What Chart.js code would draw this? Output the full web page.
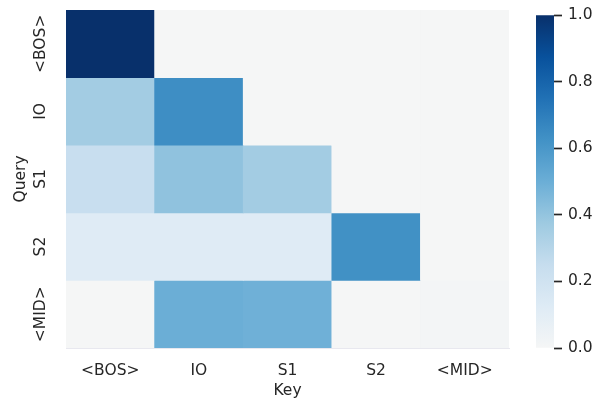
<!DOCTYPE html>
<html>
<head>
<meta charset="utf-8">
<script src="https://cdn.jsdelivr.net/npm/chart.js@4/dist/chart.umd.min.js"></script>
<style>
  html, body { margin: 0; padding: 0; background: #ffffff; }
  #wrap { position: relative; width: 607px; height: 415px; }
  #heat { position: absolute; left: 0; top: 0; }
  #cbar { position: absolute; left: 536px; top: 0; }
</style>
</head>
<body>
<div id="wrap">
  <canvas id="heat" width="607" height="415"></canvas>
  <canvas id="cbar" width="71" height="415"></canvas>
</div>
<script>
// Attention weights: one array per query token, one entry per key token.
const keys = ['<BOS>', 'IO', 'S1', 'S2', '<MID>'];
const queries = ['<BOS>', 'IO', 'S1', 'S2', '<MID>'];
const rowBOS = [1.00, 0.00, 0.00, 0.00, 0.00];
const rowIO  = [0.36, 0.64, 0.00, 0.00, 0.00];
const rowS1  = [0.24, 0.41, 0.36, 0.00, 0.00];
const rowS2  = [0.12, 0.12, 0.12, 0.63, 0.00];
const rowMID = [0.00, 0.50, 0.49, 0.00, 0.01];
const weights = [rowBOS, rowIO, rowS1, rowS2, rowMID];
const colorbarTicks = [0, 0.2, 0.4, 0.6, 0.8, 1.0];

// Sequential blue colour map (position, colour).
const cmapStops = [
  [0.000, '#f5f6f6'],
  [0.125, '#deebf5'],
  [0.250, '#c6ddee'],
  [0.375, '#9ecae1'],
  [0.500, '#6baed6'],
  [0.625, '#4292c6'],
  [0.750, '#2171b5'],
  [0.875, '#08519c'],
  [1.000, '#08306b']
];

function hexToRgb(h) {
  const n = parseInt(h.slice(1), 16);
  return [(n >> 16) & 255, (n >> 8) & 255, n & 255];
}
function cmap(v) {
  v = Math.max(0, Math.min(1, v));
  for (let i = 1; i < cmapStops.length; i++) {
    const [p1, c1] = cmapStops[i];
    const [p0, c0] = cmapStops[i - 1];
    if (v <= p1) {
      const t = (v - p0) / (p1 - p0);
      const a = hexToRgb(c0), b = hexToRgb(c1);
      const rgb = a.map((x, k) => Math.round(x + (b[k] - x) * t));
      return `rgb(${rgb[0]},${rgb[1]},${rgb[2]})`;
    }
  }
  return cmapStops[cmapStops.length - 1][1];
}

const FAMILY = "'DejaVu Sans', Verdana, sans-serif";
const FONT_SIZE = 15.5;
Chart.defaults.font.family = FAMILY;
Chart.defaults.font.size = FONT_SIZE;
Chart.defaults.color = '#262626';

const TEXT = '#262626';
const nRows = queries.length;

// Each query row becomes one dataset of floating bars spanning one unit on y.
const datasets = queries.map((q, r) => ({
  label: q,
  data: keys.map(() => [nRows - 1 - r, nRows - r]),
  backgroundColor: weights[r].map(v => cmap(v)),
  borderWidth: 0,
  categoryPercentage: 1.0,
  barPercentage: 1.0
}));

// Rotated query labels centred on each row.
const queryLabels = {
  id: 'queryLabels',
  afterDraw(chart) {
    const ys = chart.scales.y;
    const ctx = chart.ctx;
    ctx.save();
    ctx.fillStyle = TEXT;
    ctx.font = `${FONT_SIZE}px ${FAMILY}`;
    ctx.textAlign = 'center';
    ctx.textBaseline = 'middle';
    queries.forEach((q, r) => {
      const y = ys.getPixelForValue(nRows - 0.5 - r);
      ctx.save();
      ctx.translate(41, y);
      ctx.rotate(-Math.PI / 2);
      ctx.fillText(q, 0, 0);
      ctx.restore();
    });
    ctx.restore();
  }
};

new Chart(document.getElementById('heat'), {
  type: 'bar',
  data: { labels: keys, datasets },
  options: {
    responsive: false,
    animation: false,
    devicePixelRatio: 1,
    layout: { padding: { left: 0, top: 10, right: 98, bottom: 0 } },
    plugins: { legend: { display: false }, tooltip: { enabled: false } },
    scales: {
      x: {
        stacked: true,
        grid: { display: false },
        border: { display: true, color: '#e8e8ef', width: 1 },
        ticks: { color: TEXT, padding: 6, maxRotation: 0, font: { size: FONT_SIZE } },
        title: { display: true, text: 'Key', color: TEXT, font: { size: FONT_SIZE }, padding: { top: 0, bottom: 15 } },
        afterFit(s) { s.height = 67; }
      },
      y: {
        min: 0,
        max: nRows,
        grid: { display: false },
        border: { display: false },
        ticks: { display: false },
        title: { display: true, text: 'Query', color: TEXT, font: { size: FONT_SIZE }, padding: { top: 12, bottom: 0 } },
        afterFit(s) { s.width = 66; }
      }
    }
  },
  plugins: [queryLabels]
});

// Colour bar: a single floating bar filled with the colour map gradient.
new Chart(document.getElementById('cbar'), {
  type: 'bar',
  data: {
    labels: [''],
    datasets: [{
      data: [[0, 1]],
      borderWidth: 0,
      categoryPercentage: 1.0,
      barPercentage: 1.0,
      backgroundColor(ctx) {
        const chart = ctx.chart;
        const area = chart.chartArea;
        if (!area) return cmap(0.5);
        const ys = chart.scales.y;
        const g = chart.ctx.createLinearGradient(0, ys.getPixelForValue(0), 0, ys.getPixelForValue(1));
        cmapStops.forEach(([p, c]) => g.addColorStop(p, c));
        return g;
      }
    }]
  },
  options: {
    responsive: false,
    animation: false,
    devicePixelRatio: 1,
    layout: { padding: { left: 0, top: 10, right: 0, bottom: 67 } },
    plugins: { legend: { display: false }, tooltip: { enabled: false } },
    scales: {
      x: { display: false },
      y: {
        position: 'right',
        min: 0,
        max: 1,
        afterBuildTicks(s) { s.ticks = colorbarTicks.map(v => ({ value: v })); },
        grid: {
          drawOnChartArea: false,
          drawTicks: true,
          tickLength: 8,
          tickColor: TEXT,
          tickWidth: 1.7
        },
        border: { display: false },
        ticks: { color: TEXT, padding: 6, font: { size: FONT_SIZE }, callback: v => Number(v).toFixed(1) },
        afterFit(s) { s.width = 53; }
      }
    }
  }
});
</script>
</body>
</html>
